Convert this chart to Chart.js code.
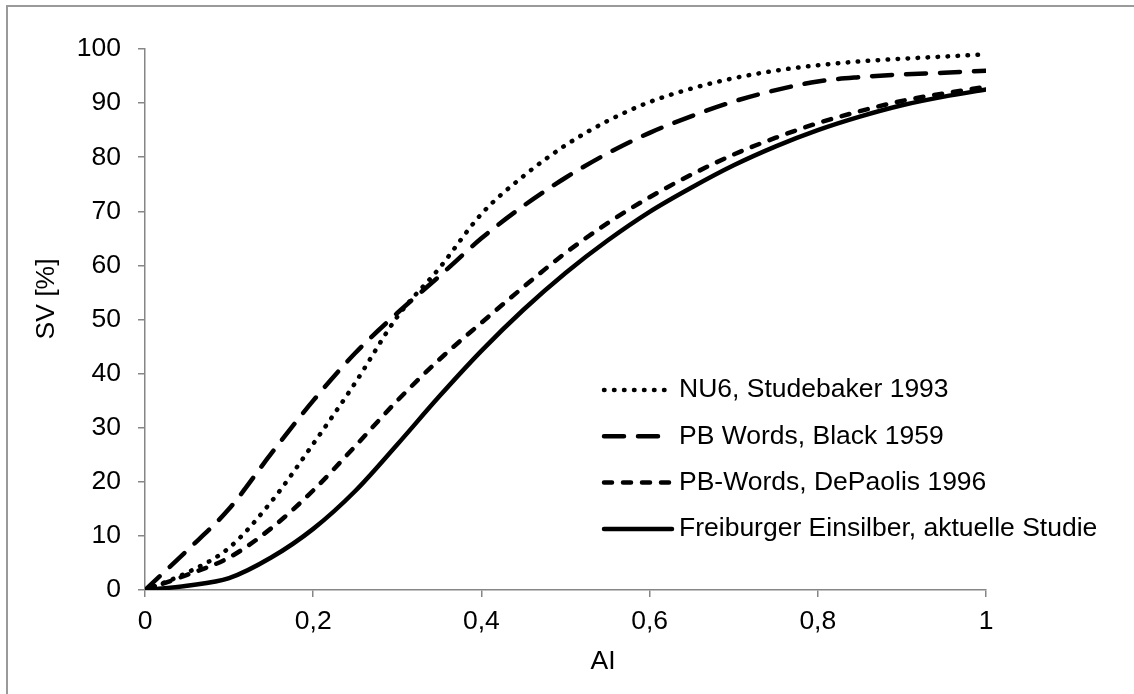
<!DOCTYPE html>
<html>
<head>
<meta charset="utf-8">
<script src="https://cdn.jsdelivr.net/npm/chart.js@4.4.1/dist/chart.umd.min.js"></script>
<style>
  html, body { margin: 0; padding: 0; background: #fff; }
  #wrap { width: 1134px; height: 694px; position: relative; }
</style>
</head>
<body>
<div id="wrap"><canvas id="chart"></canvas></div>
<script>
  'use strict';

  // Articulation index (x) and speech intelligibility in % (y)
  const aiValues = [0, 0.05, 0.1, 0.15, 0.2, 0.25, 0.3, 0.35, 0.4, 0.45, 0.5,
                    0.55, 0.6, 0.65, 0.7, 0.75, 0.8, 0.85, 0.9, 0.95, 1];
  const nu6Values = [0, 3.2, 7.8, 16.3, 27, 38.3, 50.5, 59.5, 69.5, 76.5, 82.2,
                     86.7, 90.2, 92.7, 94.6, 96, 97, 97.7, 98.2, 98.6, 99];
  const blackValues = [0, 7.3, 15, 25.2, 35, 43.8, 51.2, 58, 65, 71, 76.2,
                       80.7, 84.5, 87.6, 90.3, 92.4, 94, 94.8, 95.3, 95.6, 96];
  const dePaolisValues = [0, 2.8, 6, 11.4, 18.4, 26.6, 35, 42.6, 49.4, 56, 62.3,
                          67.8, 72.6, 76.8, 80.5, 83.6, 86.3, 88.5, 90.4, 91.8, 93];
  const freiburgerValues = [0, 0.8, 2.2, 6, 11.3, 18.3, 26.9, 35.8, 44.2, 51.8, 58.6,
                            64.6, 69.9, 74.4, 78.5, 82, 85, 87.5, 89.6, 91.2, 92.5];

  const seriesLabels = [
    'NU6, Studebaker 1993',
    'PB Words, Black 1959',
    'PB-Words, DePaolis 1996',
    'Freiburger Einsilber, aktuelle Studie'
  ];
  const xTicks = [0, 0.2, 0.4, 0.6, 0.8, 1];
  const yTicks = [0, 10, 20, 30, 40, 50, 60, 70, 80, 90, 100];

  const FONT = '"Liberation Sans", Arial, sans-serif';
  const FONT_SIZE = 26.5;
  const AXIS_GRAY = '#868686';

  function points(values) {
    return aiValues.map((x, i) => ({ x, y: values[i] }));
  }

  function series(label, values, dash) {
    return {
      label,
      data: points(values),
      borderColor: '#000',
      borderWidth: 4.5,
      borderDash: dash,
      borderCapStyle: 'round',
      pointRadius: 0,
      fill: false,
      cubicInterpolationMode: 'monotone'
    };
  }

  // axis titles, inline legend and the frame round the chart
  const decorations = {
    id: 'decorations',
    afterDraw(chart) {
      const ctx = chart.ctx;
      ctx.save();

      ctx.strokeStyle = '#9a9a9a';
      ctx.lineWidth = 2;
      ctx.setLineDash([]);
      ctx.strokeRect(7, 6, chart.width + 40, chart.height + 40);

      ctx.fillStyle = '#000';
      ctx.font = FONT_SIZE + 'px ' + FONT;
      ctx.textAlign = 'center';
      ctx.textBaseline = 'middle';
      ctx.fillText('AI', 603, 662);

      ctx.save();
      ctx.translate(47, 299);
      ctx.rotate(-Math.PI / 2);
      ctx.fillText('SV [%]', 0, 0);
      ctx.restore();

      ctx.textAlign = 'left';
      chart.data.datasets.forEach((ds, i) => {
        const y = 390 + i * 46.3;
        ctx.strokeStyle = ds.borderColor;
        ctx.lineWidth = ds.borderWidth;
        ctx.lineCap = ds.borderCapStyle;
        ctx.setLineDash(ds.borderDash);
        ctx.beginPath();
        ctx.moveTo(604, y);
        ctx.lineTo(672, y);
        ctx.stroke();
        ctx.fillText(ds.label, 679, y);
      });

      ctx.restore();
    }
  };

  const datasets = [
    series(seriesLabels[0], nu6Values, [0.5, 9.5]),
    series(seriesLabels[1], blackValues, [20, 14]),
    series(seriesLabels[2], dePaolisValues, [8, 11]),
    series(seriesLabels[3], freiburgerValues, [])
  ];

  new Chart(document.getElementById('chart'), {
    type: 'line',
    data: { datasets },
    options: {
      responsive: true,
      maintainAspectRatio: false,
      animation: false,
      layout: { padding: { left: 0, top: 49, right: 148, bottom: 0 } },
      plugins: {
        legend: { display: false },
        tooltip: { enabled: false }
      },
      scales: {
        x: {
          type: 'linear',
          min: 0,
          max: 1,
          afterBuildTicks: (scale) => { scale.ticks = xTicks.map(v => ({ value: v })); },
          afterFit: (scale) => { scale.height = 104; },
          border: { display: true, color: AXIS_GRAY, width: 1.5 },
          grid: { drawOnChartArea: false, drawTicks: true, tickLength: 7, color: AXIS_GRAY, lineWidth: 1.5 },
          ticks: {
            padding: 9,
            color: '#000',
            font: { family: FONT, size: FONT_SIZE },
            callback: (v) => String(Number(v.toFixed(1))).replace('.', ',')
          }
        },
        y: {
          min: 0,
          max: 100,
          afterBuildTicks: (scale) => { scale.ticks = yTicks.map(v => ({ value: v })); },
          afterFit: (scale) => { scale.width = 145; },
          border: { display: true, color: AXIS_GRAY, width: 1.5 },
          grid: { drawOnChartArea: false, drawTicks: true, tickLength: 7, color: AXIS_GRAY, lineWidth: 1.5 },
          ticks: {
            padding: 17,
            color: '#000',
            font: { family: FONT, size: FONT_SIZE }
          }
        }
      }
    },
    plugins: [decorations]
  });
</script>
</body>
</html>
